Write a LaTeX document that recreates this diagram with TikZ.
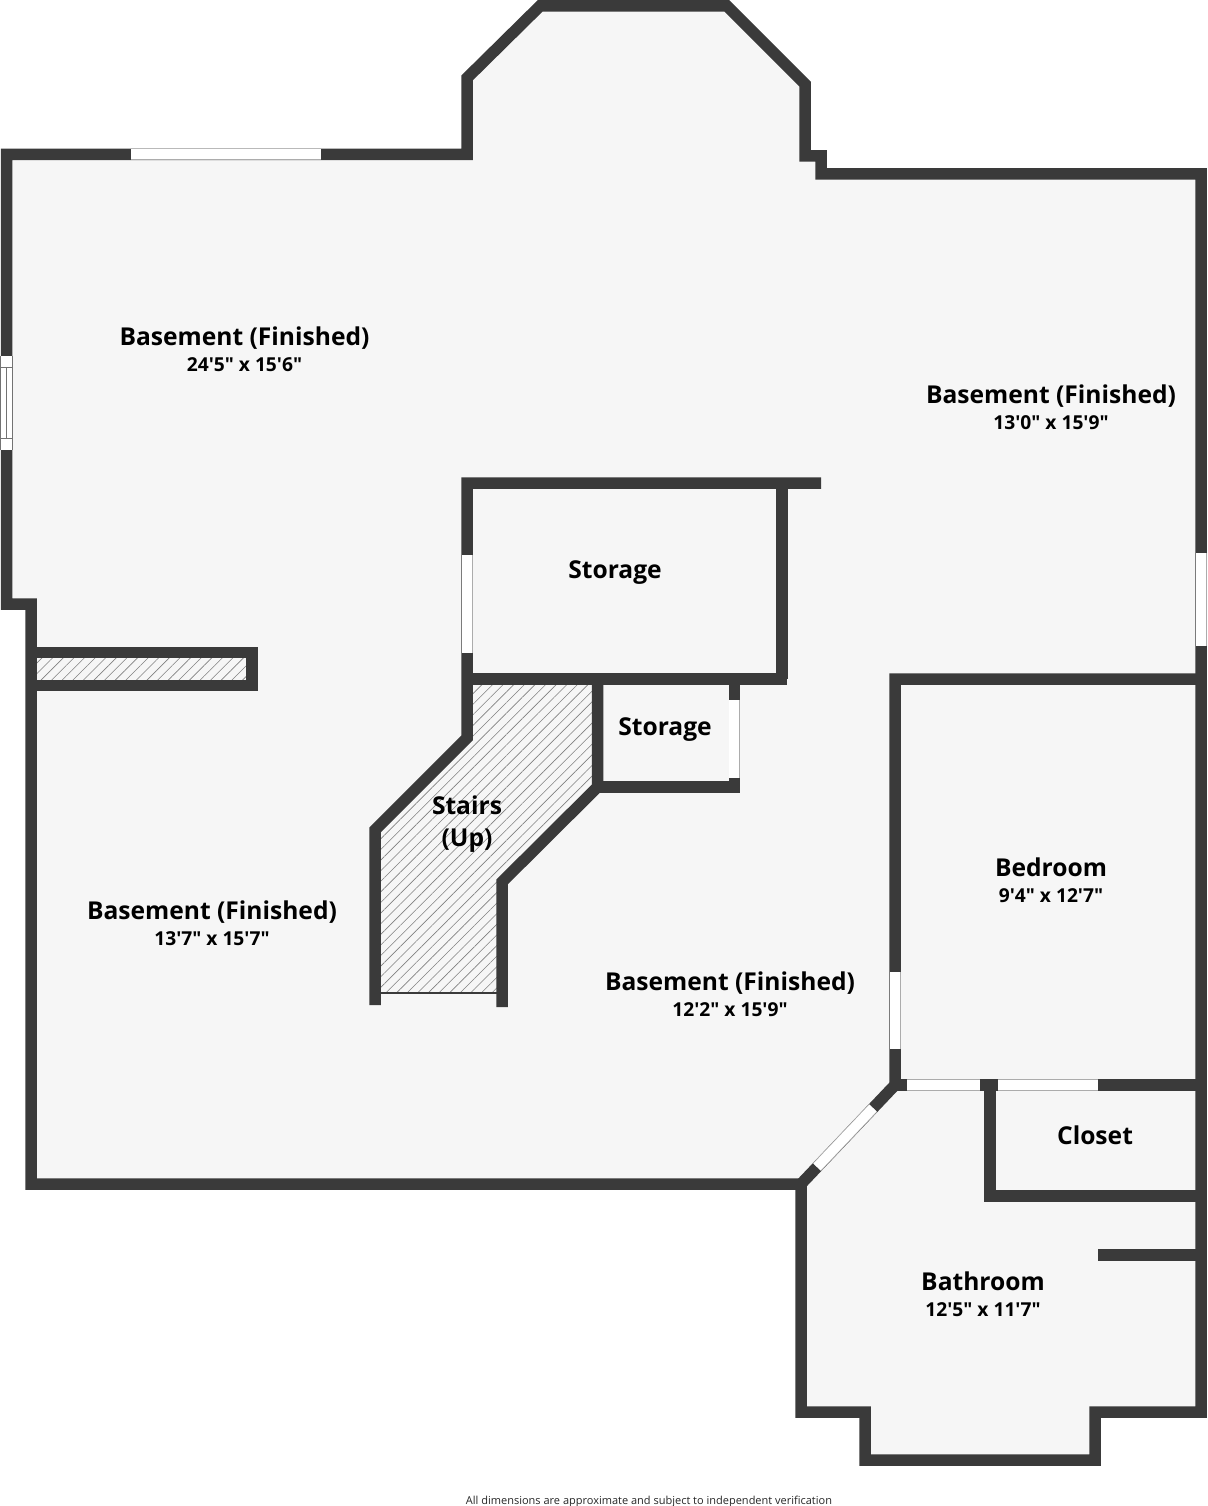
\documentclass[tikz,border=0pt]{standalone}
\usepackage{fontspec}
\usetikzlibrary{patterns.meta}
\newfontfamily\planfont{Open Sans}
\definecolor{wallgray}{HTML}{3A3A3A}
\definecolor{floorgray}{HTML}{F6F6F6}
\newcommand{\roomtext}[2]{#1\\[-2pt]{\fontsize{19.2}{28}\selectfont #2}}
\tikzset{
  wall/.style={draw=wallgray, line width=11.5pt, miter limit=10},
  winpane/.style={draw=lightgray!90!black, line width=0.8pt, double=white, double distance=9.9pt},
  hatched/.style={pattern={Lines[angle=45,distance=7.5pt,line width=0.6pt]}, pattern color=gray},
  roomlabel/.style={font=\planfont\bfseries\fontsize{24.6}{28}\selectfont, align=center, text=black, inner sep=0pt},
  footnote/.style={font=\planfont\fontsize{11}{13}\selectfont, text=black!85, inner sep=0pt}
}

\begin{document}
\begin{tikzpicture}[x=1pt, y=-1pt]
\useasboundingbox (0,0) rectangle (1207,1506);
% floor
\fill[floorgray] (6.5,154.3) -- (467,154.3) -- (467,78) -- (540,6) -- (727,6) -- (805,84) -- (805,156) -- (821,156) -- (821,174) -- (1201,174) -- (1201,1412) -- (1095,1412) -- (1095,1460) -- (865,1460) -- (865,1412) -- (801,1412) -- (801,1184) -- (31,1184) -- (31,604) -- (6.5,604) -- cycle;
% hatching
\fill[hatched] (467,679) -- (597,679) -- (597,787) -- (502,882) -- (502,993) -- (375,993) -- (375,830) -- (467,738) -- cycle;
\fill[hatched] (31,652) rectangle (252,686);
% outer walls
\draw[wall] (6.5,154.3) -- (467,154.3) -- (467,78) -- (540,6) -- (727,6) -- (805,84) -- (805,156) -- (821,156) -- (821,174) -- (1201,174) -- (1201,1412) -- (1095,1412) -- (1095,1460) -- (865,1460) -- (865,1412) -- (801,1412) -- (801,1184) -- (31,1184) -- (31,604) -- (6.5,604) -- cycle;
% inner walls
\draw[wall] (31,652.5) -- (252,652.5) -- (252,685.5) -- (31,685.5);
\draw[wall] (821,483) -- (467,483) -- (467,738) -- (375,830) -- (375,1005);
\draw[wall] (782,483) -- (782,679);
\draw[wall] (467,679) -- (787,679);
\draw[wall] (597.5,679) -- (597.5,787) -- (502,882) -- (502,1007);
\draw[wall] (597.5,787) -- (734.5,787) -- (734.5,679);
\draw[wall] (1201,679) -- (895,679) -- (895,1085) -- (801,1184);
\draw[wall] (895,1085) -- (1201,1085);
\draw[wall] (1201,1196) -- (990,1196) -- (990,1085);
\draw[wall] (1098,1255) -- (1201,1255);
\draw[draw=wallgray, line width=1.5pt] (381,993) -- (497,993);
% windows
\draw[winpane] (131,154.3) -- (321,154.3);
\draw[winpane] (467.3,555) -- (467.3,653);
\draw[winpane] (734.3,700) -- (734.3,778);
\draw[winpane] (1201.3,553) -- (1201.3,646);
\draw[winpane] (895.3,972) -- (895.3,1049);
\draw[winpane] (907,1085) -- (980,1085);
\draw[winpane] (998,1085) -- (1098,1085);
\draw[winpane] (873,1108) -- (817,1167);
% left window
\fill[white] (0,356) rectangle (12.5,450);
\draw[lightgray!60!black, line width=0.6pt] (0.5,367) -- (12.5,367) (0.5,438) -- (12.5,438) (0.5,356) -- (0.5,450) (12.5,356) -- (12.5,450) (6.5,367) -- (6.5,438);
% labels
\node[roomlabel] (bsmtnw) at (244.5,349) {\roomtext{Basement (Finished)}{24'5" x 15'6"}};
\node[roomlabel] (bsmtne) at (1051,407) {\roomtext{Basement (Finished)}{13'0" x 15'9"}};
\node[roomlabel] (bsmtsw) at (212,923) {\roomtext{Basement (Finished)}{13'7" x 15'7"}};
\node[roomlabel] (bsmtse) at (730,994) {\roomtext{Basement (Finished)}{12'2" x 15'9"}};
\node[roomlabel] (storagea) at (615,573) {Storage};
\node[roomlabel] (storageb) at (665,730) {Storage};
\node[roomlabel] (stairs) at (467,824) {Stairs\\[4pt](Up)};
\node[roomlabel] (bedroom) at (1051,880) {\roomtext{Bedroom}{9'4" x 12'7"}};
\node[roomlabel] (closet) at (1095,1135) {Closet};
\node[roomlabel] (bathroom) at (983,1294) {\roomtext{Bathroom}{12'5" x 11'7"}};
\node[footnote] (note) at (649,1501.5) {All dimensions are approximate and subject to independent verification};
\end{tikzpicture}
\end{document}
